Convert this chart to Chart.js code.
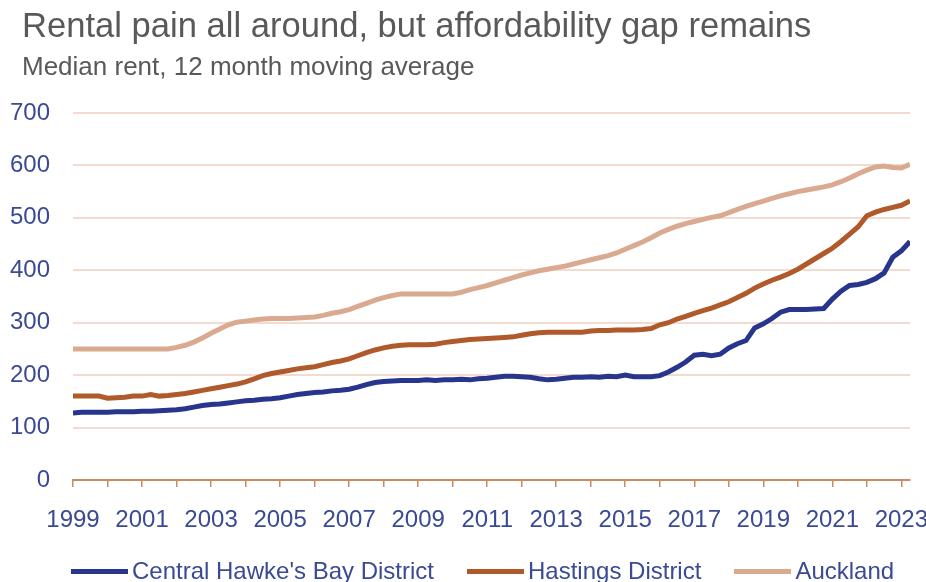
<!DOCTYPE html>
<html>
<head>
<meta charset="utf-8">
<script src="https://cdn.jsdelivr.net/npm/chart.js@4/dist/chart.umd.min.js"></script>
<style>
  html, body { margin: 0; padding: 0; background: #ffffff; }
  #wrap { width: 926px; height: 582px; position: relative; overflow: hidden; }
  #chart { position: absolute; left: 0; top: 0; }
  .txt { position: absolute; white-space: nowrap;
         font-family: 'Liberation Sans', Arial, sans-serif; }
  #title { left: 22px; top: 8px; font-size: 34.6px; line-height: 35px; color: #595959; }
  #subtitle { left: 22px; top: 53px; font-size: 26px; line-height: 26px; color: #595959; }
  #legend { left: 71px; top: 559px; display: flex; align-items: center; }
  .item { display: flex; align-items: center; margin-right: 33px; }
  .swatch { width: 57px; height: 5px; margin-right: 4px; }
  .name { font-size: 24px; line-height: 24px; color: #3a4a94; }
</style>
</head>
<body>
<div id="wrap">
  <canvas id="chart" width="926" height="582"></canvas>
  <div class="txt" id="title">Rental pain all around, but affordability gap remains</div>
  <div class="txt" id="subtitle">Median rent, 12 month moving average</div>
  <div class="txt" id="legend"></div>
</div>
<script>
// Median rent, 12 month moving average, quarterly readings from Jan 1999
const firstYear = 1999;
const stepYears = 0.25;
const lastYear = 2023.25;

const centralHawkesBay = [
  128,129,129,129, 129,130,130,130, 131,131,132,133, 134,136,139,142,
  144,145,147,149, 151,152,154,155, 157,160,163,165, 167,168,170,171,
  173,177,182,186, 188,189,190,190, 190,191,190,191, 191,192,191,193,
  194,196,198,198, 197,196,193,191, 192,194,196,196, 197,196,198,197,
  200,197,197,197, 199,206,215,225, 238,240,237,240, 252,260,266,290,
  298,308,320,325, 325,325,326,327, 345,360,371,373, 377,384,395,425,
  437,455
];

const hastings = [
  160,160,160,160, 156,157,158,160, 160,163,160,161, 163,165,168,171,
  174,177,180,183, 187,193,199,203, 206,209,212,214, 216,220,224,227,
  231,237,243,248, 252,255,257,258, 258,258,259,262, 264,266,268,269,
  270,271,272,273, 276,279,281,282, 282,282,282,282, 284,285,285,286,
  286,286,287,289, 296,300,307,312, 318,323,328,334, 340,348,356,366,
  374,381,387,394, 402,412,422,432, 442,455,469,483, 504,511,516,520,
  524,532
];

const auckland = [
  250,250,250,250, 250,250,250,250, 250,250,250,250, 253,257,263,271,
  280,288,296,301, 303,305,307,308, 308,308,309,310, 311,314,318,321,
  325,331,337,343, 348,352,355,355, 355,355,355,355, 355,358,363,367,
  371,376,381,386, 391,395,399,402, 405,408,412,416, 420,424,428,433,
  440,447,454,462, 471,478,484,489, 493,497,501,504, 510,516,522,527,
  532,537,542,546, 550,553,556,559, 563,569,576,584, 591,597,599,596,
  595,602
];

const seriesNames = ["Central Hawke's Bay District", "Hastings District", "Auckland"];
const yTicks = [0, 100, 200, 300, 400, 500, 600, 700];

const toPoints = values => values.map((v, i) => ({ x: firstYear + i * stepYears, y: v }));

const textColor = '#3a4a94';
const axisColor = '#c98b63';
const gridColor = '#f3dccf';
const fontFamily = "'Liberation Sans', Arial, sans-serif";

const colours = ['#28358c', '#b0592b', '#d9aa90'];

// Legend row under the plot
const legendEl = document.getElementById('legend');
seriesNames.forEach((name, k) => {
  const item = document.createElement('div');
  item.className = 'item';
  const sw = document.createElement('div');
  sw.className = 'swatch';
  sw.style.background = colours[k];
  const label = document.createElement('span');
  label.className = 'name';
  label.textContent = name;
  item.appendChild(sw);
  item.appendChild(label);
  legendEl.appendChild(item);
});

new Chart(document.getElementById('chart'), {
  type: 'line',
  data: {
    datasets: [centralHawkesBay, hastings, auckland].map((vals, k) => ({
      label: seriesNames[k],
      data: toPoints(vals),
      borderColor: colours[k],
      backgroundColor: colours[k],
      borderWidth: 5,
      pointRadius: 0,
      tension: 0,
      fill: false
    }))
  },
  options: {
    responsive: false,
    animation: false,
    devicePixelRatio: 1,
    layout: { padding: { left: 8, right: 16, top: 113, bottom: 42 } },
    plugins: {
      title: { display: false },
      legend: { display: false },
      tooltip: { enabled: false }
    },
    scales: {
      x: {
        type: 'linear',
        min: firstYear,
        max: lastYear,
        afterFit: scale => {
          scale.height = 60;
          scale.paddingLeft = 0;
          scale.paddingRight = 0;
        },
        ticks: {
          stepSize: 1,
          includeBounds: false,
          autoSkip: false,
          maxRotation: 0,
          color: textColor,
          font: { family: fontFamily, size: 24 },
          padding: 19,
          callback: v => (Number.isInteger(v) && (v - firstYear) % 2 === 0) ? String(v) : ''
        },
        grid: {
          drawOnChartArea: false,
          drawTicks: true,
          tickLength: 7,
          color: axisColor,
          lineWidth: 1.5
        },
        border: { display: true, color: axisColor, width: 2 }
      },
      y: {
        min: yTicks[0],
        max: yTicks[yTicks.length - 1],
        afterFit: scale => { scale.width = 65; },
        afterBuildTicks: scale => { scale.ticks = yTicks.map(v => ({ value: v })); },
        ticks: {
          color: textColor,
          font: { family: fontFamily, size: 24 },
          padding: 23
        },
        grid: {
          color: gridColor,
          lineWidth: 2,
          drawTicks: false
        },
        border: { display: false }
      }
    }
  }
});
</script>
</body>
</html>
